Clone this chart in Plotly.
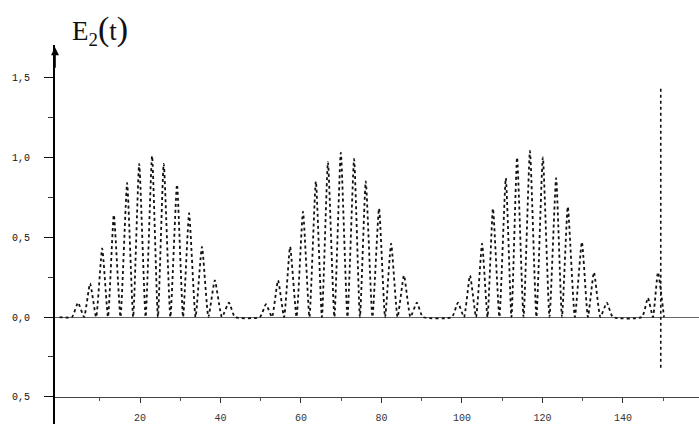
import plotly.graph_objects as go

# Peak times (t) and peak heights E2, one list per burst
group1_t = [4.6, 7.6, 10.6, 13.5, 16.8, 19.8, 23.0, 25.9, 29.2, 32.2, 35.4, 38.6, 42.1]
group1_v = [0.09, 0.21, 0.43, 0.64, 0.84, 0.96, 1.01, 0.96, 0.83, 0.65, 0.44, 0.23, 0.09]
group2_t = [51.3, 54.3, 57.3, 60.5, 63.7, 66.7, 69.9, 73.2, 76.1, 79.4, 82.4, 85.6, 88.8]
group2_v = [0.08, 0.23, 0.44, 0.66, 0.85, 0.97, 1.03, 0.99, 0.85, 0.68, 0.46, 0.26, 0.09]
group3_t = [99.0, 102.0, 105.0, 107.7, 110.9, 113.7, 116.9, 120.1, 123.4, 126.3, 129.8, 132.8, 136.0]
group3_v = [0.09, 0.26, 0.46, 0.68, 0.87, 1.00, 1.04, 1.00, 0.87, 0.69, 0.47, 0.28, 0.09]
group4_t = [146.2, 148.7]
group4_v = [0.12, 0.28]
valley_v = 0.0
t_start = 0.0

# vertical marker line near the end of the record
cursor_t = [149.4, 149.4]
cursor_v = [1.43, -0.33]

y_tickvals = [-0.5, 0.0, 0.5, 1.0, 1.5]
y_ticktext = ["0,5", "0,0", "0,5", "1,0", "1,5"]
x_tickvals = [20, 40, 60, 80, 100, 120, 140]
x_ticktext = ["20", "40", "60", "80", "100", "120", "140"]

# build the oscillating trace from the peaks: peak -> valley -> peak
peaks = list(zip(group1_t, group1_v)) + list(zip(group2_t, group2_v)) + \
    list(zip(group3_t, group3_v)) + list(zip(group4_t, group4_v))
xs = [t_start]
ys = [valley_v]
half = 1.5
for i, (t, v) in enumerate(peaks):
    if i == 0 or t - peaks[i - 1][0] > 5:
        xs.append(t - half); ys.append(valley_v)
    xs.append(t); ys.append(v)
    if i == len(peaks) - 1 or peaks[i + 1][0] - t > 5:
        xs.append(t + half); ys.append(valley_v)
    else:
        xs.append((t + peaks[i + 1][0]) / 2); ys.append(valley_v)

fig = go.Figure()
fig.add_trace(go.Scatter(
    x=xs, y=ys, mode="lines",
    line=dict(color="#111", width=1.8, dash="dot", shape="spline", smoothing=0.5),
    hoverinfo="skip", showlegend=False))
fig.add_trace(go.Scatter(
    x=cursor_t, y=cursor_v, mode="lines",
    line=dict(color="#111", width=1.6, dash="dot"),
    hoverinfo="skip", showlegend=False))

fig.update_layout(
    width=699, height=424,
    margin=dict(l=55, r=0, t=45, b=0, autoexpand=False),
    paper_bgcolor="white", plot_bgcolor="white",
    showlegend=False,
    font=dict(family="Liberation Mono", size=10, color="#111"),
    xaxis=dict(
        range=[-1.12, 158.9], anchor="free", position=0.0716, automargin=False,
        showline=True, linecolor="#444", linewidth=1,
        showgrid=False, zeroline=False,
        tickvals=x_tickvals, ticktext=x_ticktext,
        ticks="outside", ticklen=5, tickcolor="#333", tickwidth=1,
        ticklabelstandoff=6,
        minor=dict(tickvals=[10, 30, 50, 70, 90, 110, 130, 150], ticks="outside",
                   ticklen=3, tickcolor="#555"),
        tickfont=dict(family="Liberation Mono", size=10, color="#333"),
    ),
    yaxis=dict(
        range=[-0.670, 1.704], automargin=False,
        showline=True, linecolor="#000", linewidth=1.8,
        showgrid=False,
        zeroline=True, zerolinecolor="#666", zerolinewidth=1,
        tickvals=y_tickvals, ticktext=y_ticktext,
        ticks="outside", ticklen=9, tickcolor="#111", tickwidth=1.2,
        ticklabelstandoff=12,
        minor=dict(tickvals=[-0.25, 0.25, 0.75, 1.25], ticks="outside",
                   ticklen=5, tickcolor="#333"),
        tickfont=dict(family="Liberation Mono", size=10, color="#111"),
    ),
)

# axis arrow
fig.add_annotation(x=-1.12, y=1.69, xref="x", yref="y", ax=0, ay=22,
                   showarrow=True, arrowhead=2, arrowsize=1, arrowwidth=1.6,
                   arrowcolor="#000", text="")
# axis title
fig.add_annotation(
    x=0.07, y=1.04, xref="paper", yref="paper", xanchor="center", yanchor="middle",
    showarrow=False,
    text='E<sub>2</sub><span style="font-size:34px">(</span>t<span style="font-size:34px">)</span>',
    font=dict(family="Liberation Serif", size=27, color="#111"))

fig.write_html(
    "out.html",
    config={"displayModeBar": False},
    post_script="document.body.style.margin='0';document.body.style.overflow='hidden';",
)
